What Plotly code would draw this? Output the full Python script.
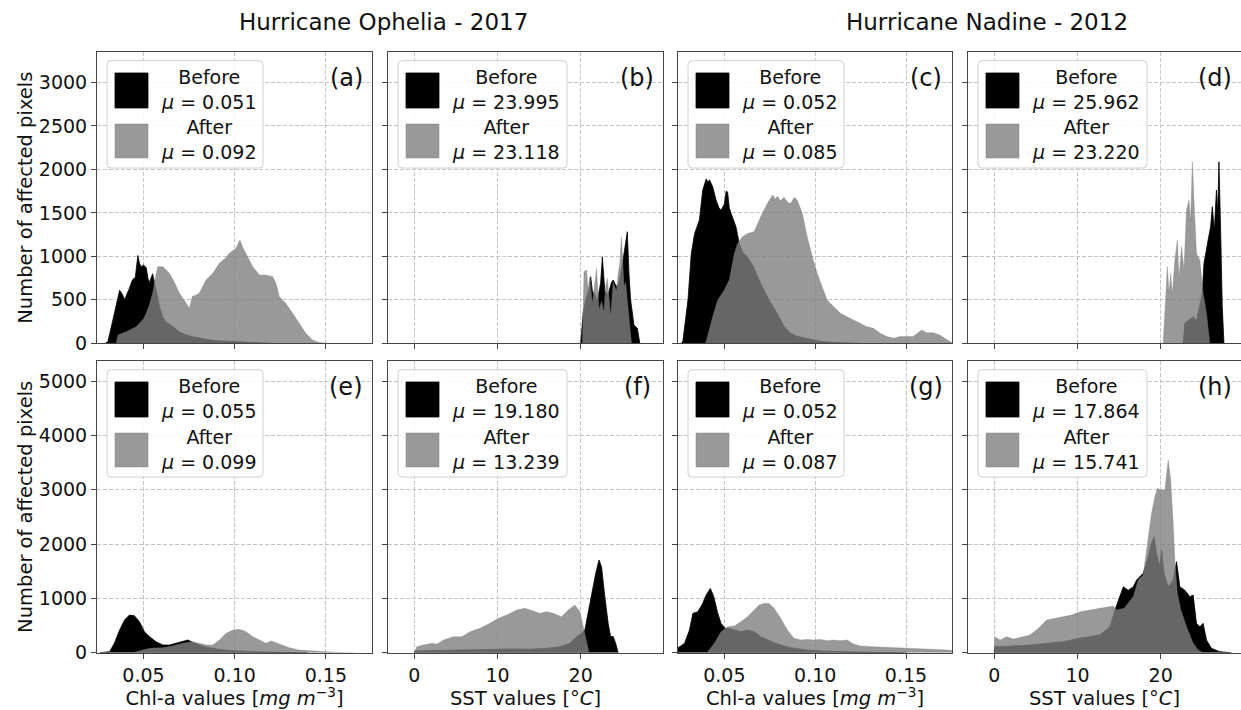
import plotly.graph_objects as go

# ---------------- data ----------------
a_before_x = [0.0290, 0.0305, 0.0330, 0.0355, 0.0369, 0.0385, 0.0396, 0.0420, 0.0440, 0.0455, 0.0469, 0.0478, 0.0487, 0.0500, 0.0515, 0.0525, 0.0533, 0.0550, 0.0560, 0.0570, 0.0588, 0.0606, 0.0625, 0.0642, 0.0670, 0.0697, 0.0730, 0.0770, 0.0807, 0.0850, 0.0900, 0.0990, 0.1100, 0.1200]
a_before_y = [0, 20, 250, 500, 610, 560, 500, 620, 730, 760, 1010, 920, 880, 900, 870, 740, 700, 800, 700, 580, 420, 300, 240, 220, 180, 130, 100, 75, 57, 45, 30, 19, 8, 0]
a_after_x = [0.0350, 0.0360, 0.0405, 0.0460, 0.0500, 0.0515, 0.0535, 0.0550, 0.0565, 0.0578, 0.0606, 0.0642, 0.0670, 0.0697, 0.0725, 0.0752, 0.0768, 0.0790, 0.0807, 0.0843, 0.0880, 0.0916, 0.0950, 0.0970, 0.1007, 0.1029, 0.1045, 0.1062, 0.1099, 0.1135, 0.1170, 0.1208, 0.1225, 0.1245, 0.1280, 0.1318, 0.1354, 0.1390, 0.1427, 0.1460, 0.1500]
a_after_y = [0, 96, 134, 190, 280, 345, 460, 575, 750, 880, 880, 805, 700, 575, 490, 402, 540, 555, 580, 728, 805, 920, 980, 1034, 1092, 1188, 1100, 1034, 880, 785, 785, 766, 700, 536, 460, 345, 230, 115, 38, 11, 0]

b_before_x = [20.0, 20.3, 20.6, 21.0, 21.2, 21.4, 21.7, 22.0, 22.4, 22.6, 22.9, 23.3, 23.7, 23.9, 24.3, 24.6, 25.0, 25.3, 25.6, 25.8, 26.0, 26.4, 26.8, 27.0, 27.1]
b_before_y = [0, 350, 500, 620, 765, 600, 560, 480, 700, 995, 600, 560, 700, 727, 650, 700, 900, 1100, 1283, 800, 498, 211, 172, 60, 0]
b_after_x = [19.9, 20.2, 20.4, 20.7, 20.9, 21.1, 21.4, 21.7, 21.9, 22.2, 22.5, 22.8, 23.0, 23.2, 23.4, 23.6, 23.9, 24.3, 24.5, 24.7, 24.9, 25.2, 25.4, 25.7, 25.9, 26.1]
b_after_y = [0, 0, 823, 842, 612, 760, 450, 700, 861, 383, 480, 360, 650, 746, 500, 306, 700, 600, 800, 918, 1225, 650, 700, 400, 150, 0]

c_before_x = [0.0265, 0.0272, 0.0300, 0.0318, 0.0336, 0.0350, 0.0363, 0.0381, 0.0400, 0.0410, 0.0418, 0.0436, 0.0454, 0.0470, 0.0482, 0.0500, 0.0510, 0.0518, 0.0527, 0.0536, 0.0550, 0.0564, 0.0582, 0.0600, 0.0628, 0.0660, 0.0700, 0.0745, 0.0790, 0.0830, 0.0865, 0.0900, 0.0950, 0.1040, 0.1130, 0.1250]
c_before_y = [0, 30, 500, 1030, 1260, 1350, 1420, 1760, 1890, 1850, 1880, 1800, 1650, 1560, 1530, 1600, 1750, 1740, 1560, 1500, 1420, 1340, 1150, 1050, 990, 880, 690, 500, 345, 190, 115, 80, 57, 19, 8, 0]
c_after_x = [0.0395, 0.0400, 0.0436, 0.0464, 0.0500, 0.0527, 0.0555, 0.0573, 0.0600, 0.0628, 0.0664, 0.0700, 0.0737, 0.0765, 0.0780, 0.0792, 0.0810, 0.0828, 0.0850, 0.0865, 0.0885, 0.0901, 0.0929, 0.0956, 0.0984, 0.1011, 0.1038, 0.1066, 0.1102, 0.1139, 0.1175, 0.1212, 0.1248, 0.1285, 0.1321, 0.1358, 0.1394, 0.1431, 0.1467, 0.1500, 0.1540, 0.1586, 0.1613, 0.1650, 0.1686, 0.1713, 0.1740, 0.1760]
c_after_y = [0, 20, 306, 498, 613, 728, 1034, 1149, 1226, 1264, 1283, 1455, 1609, 1705, 1660, 1690, 1640, 1680, 1620, 1609, 1680, 1647, 1494, 1226, 996, 805, 651, 498, 421, 345, 306, 268, 230, 191, 172, 115, 77, 57, 77, 77, 77, 153, 122, 122, 95, 57, 20, 5]

d_before_x = [22.7, 22.9, 23.3, 23.9, 24.3, 24.7, 25.0, 25.2, 25.5, 25.7, 26.0, 26.2, 26.45, 26.7, 26.85, 27.0, 27.2, 27.4, 27.6]
d_before_y = [0, 230, 260, 306, 260, 421, 575, 920, 1111, 1188, 1340, 1570, 1300, 1762, 1500, 2087, 1300, 421, 0]
d_after_x = [20.3, 20.6, 20.8, 21.0, 21.2, 21.4, 21.7, 22.0, 22.2, 22.5, 22.8, 23.1, 23.4, 23.6, 23.8, 24.0, 24.3, 24.7, 25.1, 25.5, 25.9]
d_after_y = [0, 500, 880, 575, 805, 560, 958, 1188, 750, 1111, 850, 1532, 1647, 1400, 2087, 1647, 1034, 958, 575, 345, 0]

e_before_x = [0.0260, 0.0314, 0.0340, 0.0369, 0.0396, 0.0423, 0.0450, 0.0478, 0.0505, 0.0533, 0.0569, 0.0606, 0.0642, 0.0679, 0.0715, 0.0743, 0.0770, 0.0807, 0.0861, 0.0916, 0.0990, 0.1100, 0.1260, 0.1400]
e_before_y = [0, 18, 172, 417, 601, 693, 681, 570, 386, 294, 202, 141, 141, 172, 215, 233, 190, 141, 92, 61, 37, 18, 6, 0]
e_after_x = [0.0440, 0.0460, 0.0533, 0.0606, 0.0660, 0.0715, 0.0770, 0.0807, 0.0843, 0.0880, 0.0916, 0.0953, 0.0990, 0.1026, 0.1062, 0.1099, 0.1135, 0.1172, 0.1200, 0.1226, 0.1263, 0.1300, 0.1354, 0.1427, 0.1500, 0.1573, 0.1650]
e_after_y = [0, 18, 80, 92, 123, 172, 202, 172, 141, 141, 233, 356, 417, 430, 386, 294, 233, 172, 215, 185, 141, 92, 49, 30, 12, 3, 0]

f_before_x = [0.0, 0.1, 2, 4, 6, 8, 10, 12, 14, 15.5, 16.7, 17.7, 18.7, 19.5, 20.1, 20.5, 20.9, 21.3, 21.8, 22.2, 22.5, 22.9, 23.3, 23.6, 23.9, 24.2, 24.5]
f_before_y = [0, 30, 40, 45, 50, 55, 70, 70, 65, 80, 92, 120, 172, 294, 356, 417, 724, 1092, 1460, 1706, 1583, 1031, 540, 294, 300, 172, 0]
f_after_x = [0.0, 0.3, 1.1, 2.1, 2.7, 3.5, 4.7, 5.7, 6.7, 7.9, 9.1, 10.1, 11.1, 12.3, 13.3, 14.1, 15.1, 15.9, 16.7, 17.7, 18.5, 19.3, 19.9, 20.3, 20.7, 21.0]
f_after_y = [0, 110, 141, 172, 155, 233, 294, 294, 386, 448, 540, 632, 693, 785, 816, 773, 724, 755, 724, 663, 785, 877, 755, 478, 172, 0]

g_before_x = [0.0240, 0.0254, 0.0281, 0.0308, 0.0327, 0.0354, 0.0381, 0.0400, 0.0423, 0.0442, 0.0464, 0.0482, 0.0504, 0.0527, 0.0555, 0.0591, 0.0628, 0.0664, 0.0700, 0.0737, 0.0774, 0.0810, 0.0865, 0.0956, 0.1047, 0.1230, 0.1500]
g_before_y = [90, 110, 172, 417, 724, 755, 908, 1061, 1184, 1031, 724, 540, 448, 448, 417, 386, 417, 386, 294, 233, 184, 141, 92, 49, 30, 12, 0]
g_after_x = [0.0400, 0.0409, 0.0445, 0.0482, 0.0518, 0.0555, 0.0591, 0.0628, 0.0664, 0.0692, 0.0719, 0.0746, 0.0774, 0.0810, 0.0847, 0.0883, 0.0920, 0.0956, 0.0993, 0.1029, 0.1066, 0.1102, 0.1139, 0.1175, 0.1212, 0.1248, 0.1321, 0.1412, 0.1504, 0.1595, 0.1686, 0.1732, 0.1760]
g_after_y = [0, 18, 172, 386, 478, 490, 570, 663, 785, 877, 908, 908, 816, 632, 417, 264, 233, 245, 233, 245, 221, 233, 221, 233, 160, 123, 110, 98, 92, 80, 68, 49, 40]

h_before_x = [0.0, 0.05, 1.5, 4.3, 8.3, 10.3, 12.7, 13.9, 14.5, 15.1, 15.5, 16.1, 16.7, 17.1, 17.9, 18.5, 18.9, 19.2, 19.5, 19.9, 20.1, 20.4, 20.9, 21.5, 21.9, 22.3, 22.9, 23.5, 23.9, 24.3, 24.7, 25.1, 25.5, 26.1, 27.1, 28.5]
h_before_y = [0, 110, 120, 141, 202, 265, 326, 480, 785, 1030, 1212, 1150, 1212, 1338, 1462, 1768, 2014, 2135, 1830, 1582, 1889, 1462, 1212, 1338, 1675, 1212, 1150, 1030, 1060, 540, 478, 540, 234, 80, 18, 0]
h_after_x = [0.0, 0.05, 0.7, 1.5, 2.3, 3.3, 4.3, 5.3, 6.3, 7.3, 8.3, 9.3, 10.3, 11.5, 12.7, 14.3, 14.7, 15.6, 16.7, 17.3, 17.9, 18.3, 18.9, 19.3, 19.6, 20.1, 20.5, 20.9, 21.2, 21.5, 21.7, 22.0, 22.4, 23.1, 23.9, 24.5, 25.1]
h_after_y = [0, 294, 233, 294, 250, 294, 325, 448, 601, 632, 663, 693, 755, 785, 816, 858, 785, 816, 1030, 1338, 1430, 1889, 2565, 2870, 3024, 2994, 2994, 3546, 3178, 2380, 1700, 1100, 800, 480, 173, 50, 0]

panel_labels = ["(a)", "(b)", "(c)", "(d)", "(e)", "(f)", "(g)", "(h)"]
mean_before = ["0.051", "23.995", "0.052", "25.962", "0.055", "19.180", "0.052", "17.864"]
mean_after = ["0.092", "23.118", "0.085", "23.220", "0.099", "13.239", "0.087", "15.741"]
variable = ["chl", "sst", "chl", "sst", "chl", "sst", "chl", "sst"]
suptitles = ["Hurricane Ophelia - 2017", "Hurricane Nadine - 2012"]
chl_ticks = [0.05, 0.10, 0.15]
sst_ticks = [0, 10, 20]
top_yticks = [0, 500, 1000, 1500, 2000, 2500, 3000]
bottom_yticks = [0, 1000, 2000, 3000, 4000, 5000]
ylabel = "Number of affected pixels"
xlabels = {"chl": "Chl-a values [<i>mg m</i><sup>−3</sup>]", "sst": "SST values [°<i>C</i>]"}

series_before = [(a_before_x, a_before_y), (b_before_x, b_before_y), (c_before_x, c_before_y), (d_before_x, d_before_y),
                 (e_before_x, e_before_y), (f_before_x, f_before_y), (g_before_x, g_before_y), (h_before_x, h_before_y)]
series_after = [(a_after_x, a_after_y), (b_after_x, b_after_y), (c_after_x, c_after_y), (d_after_x, d_after_y),
                (e_after_x, e_after_y), (f_after_x, f_after_y), (g_after_x, g_after_y), (h_after_x, h_after_y)]

# ---------------- layout geometry (pixels) ----------------
W, H = 1241, 710
FONT = "DejaVu Sans"
cols = [(97, 372), (388, 663), (678, 952), (968, 1241)]
rows = [(52, 343.3), (361, 652.7)]
chl_range = [0.0245, 0.1753]
sst_range = [-3.16, 29.89]
sst_range_last = [-3.16, 29.65]
yranges = [[0, 3350], [0, 5370]]

BEFORE = "rgba(0,0,0,1)"
AFTER = "rgba(128,128,128,0.8)"
SPINE = "#444444"
GRID = "#c4c4c4"


def fx(p):
    return p / W


def fy(p):
    return 1 - p / H


def rounded_rect(x0, y0, x1, y1, r=4):
    return (f"M{fx(x0 + r)},{fy(y0)} L{fx(x1 - r)},{fy(y0)} Q{fx(x1)},{fy(y0)} {fx(x1)},{fy(y0 + r)} "
            f"L{fx(x1)},{fy(y1 - r)} Q{fx(x1)},{fy(y1)} {fx(x1 - r)},{fy(y1)} "
            f"L{fx(x0 + r)},{fy(y1)} Q{fx(x0)},{fy(y1)} {fx(x0)},{fy(y1 - r)} "
            f"L{fx(x0)},{fy(y0 + r)} Q{fx(x0)},{fy(y0)} {fx(x0 + r)},{fy(y0)} Z")


fig = go.Figure()
shapes = []
annotations = []
layout = {}

for i in range(8):
    r, c = divmod(i, 4)
    L, R = cols[c]
    T, B = rows[r]
    n = "" if i == 0 else str(i + 1)
    xa, ya = "x" + n, "y" + n
    kind = variable[i]

    bx, by = series_before[i]
    ax_, ay_ = series_after[i]
    fig.add_trace(go.Scatter(x=bx, y=by, xaxis=xa, yaxis=ya, mode="lines", fill="tozeroy",
                             fillcolor=BEFORE, line=dict(color="black", width=0.8),
                             name="Before", showlegend=False, hoverinfo="x+y"))
    fig.add_trace(go.Scatter(x=ax_, y=ay_, xaxis=xa, yaxis=ya, mode="lines", fill="tozeroy",
                             fillcolor=AFTER, line=dict(color="rgba(128,128,128,0.6)", width=0.6),
                             name="After", showlegend=False, hoverinfo="x+y"))

    if kind == "chl":
        xr = chl_range
        tv = chl_ticks
        tt = [f"{v:.2f}" for v in chl_ticks]
    else:
        xr = sst_range_last if c == 3 else sst_range
        tv = sst_ticks
        tt = [str(v) for v in sst_ticks]

    common = dict(showline=True, linecolor=SPINE, linewidth=1, mirror=True,
                  ticks="outside", ticklen=5, tickwidth=1, tickcolor=SPINE,
                  showgrid=True, gridcolor=GRID, gridwidth=1, griddash="4px,2px",
                  zeroline=False, automargin=False,
                  tickfont=dict(family=FONT, size=19, color="#111"))

    xaxis = dict(common, domain=[fx(L), fx(R)], range=xr, anchor=ya,
                 tickmode="array", tickvals=tv, ticktext=tt,
                 showticklabels=(r == 1))
    if r == 1:
        xaxis["title"] = dict(text=xlabels[kind], font=dict(family=FONT, size=19.5, color="#111"), standoff=6)
    yaxis = dict(common, domain=[fy(B), fy(T)], range=yranges[r], anchor=xa,
                 tickmode="array", tickvals=top_yticks if r == 0 else bottom_yticks,
                 showticklabels=(c == 0))
    if c == 0:
        yaxis["title"] = dict(text=ylabel, font=dict(family=FONT, size=19.5, color="#111"), standoff=1)
    layout["xaxis" + n] = xaxis
    layout["yaxis" + n] = yaxis

    # panel label
    annotations.append(dict(x=fx(R - 26), y=fy(T + 26), xref="paper", yref="paper",
                            text=panel_labels[i], showarrow=False, xanchor="center", yanchor="middle",
                            font=dict(family=FONT, size=24, color="#111")))

    # legend box (manual, matplotlib-style)
    bw = 156 if kind == "chl" else 169
    tc = 112 if kind == "chl" else 118
    shapes.append(dict(type="path", xref="paper", yref="paper",
                       path=rounded_rect(L + 10, T + 8.7, L + 10 + bw, T + 116),
                       fillcolor="rgba(255,255,255,0.85)", line=dict(color="#d0d0d0", width=1), layer="above"))
    shapes.append(dict(type="rect", xref="paper", yref="paper",
                       x0=fx(L + 18), x1=fx(L + 51), y0=fy(T + 56), y1=fy(T + 21),
                       fillcolor=BEFORE, line=dict(color="black", width=0.8), layer="above"))
    shapes.append(dict(type="rect", xref="paper", yref="paper",
                       x0=fx(L + 18), x1=fx(L + 51), y0=fy(T + 106), y1=fy(T + 72),
                       fillcolor=AFTER, line=dict(color="rgba(128,128,128,0.6)", width=0.8), layer="above"))
    annotations.append(dict(x=fx(L + tc), y=fy(T + 37), xref="paper", yref="paper",
                            text=f"Before<br><i>μ</i> = {mean_before[i]}", showarrow=False,
                            xanchor="center", yanchor="middle", align="center",
                            font=dict(family=FONT, size=19, color="#111")))
    annotations.append(dict(x=fx(L + tc), y=fy(T + 88), xref="paper", yref="paper",
                            text=f"After<br><i>μ</i> = {mean_after[i]}", showarrow=False,
                            xanchor="center", yanchor="middle", align="center",
                            font=dict(family=FONT, size=19, color="#111")))

# super titles
for txt, xc in zip(suptitles, [383, 987]):
    annotations.append(dict(x=fx(xc), y=fy(22), xref="paper", yref="paper", text=txt,
                            showarrow=False, xanchor="center", yanchor="middle",
                            font=dict(family=FONT, size=23, color="#111")))

fig.update_layout(**layout)
fig.update_layout(width=W, height=H, autosize=False, template="none",
                  margin=dict(l=0, r=0, t=0, b=0, pad=0),
                  paper_bgcolor="white", plot_bgcolor="white",
                  showlegend=False, shapes=shapes, annotations=annotations,
                  font=dict(family=FONT, size=18, color="#111"))

fig.write_html("out.html", config={"displayModeBar": False},
               post_script="document.body.style.margin='0px';document.body.style.overflow='hidden';")
